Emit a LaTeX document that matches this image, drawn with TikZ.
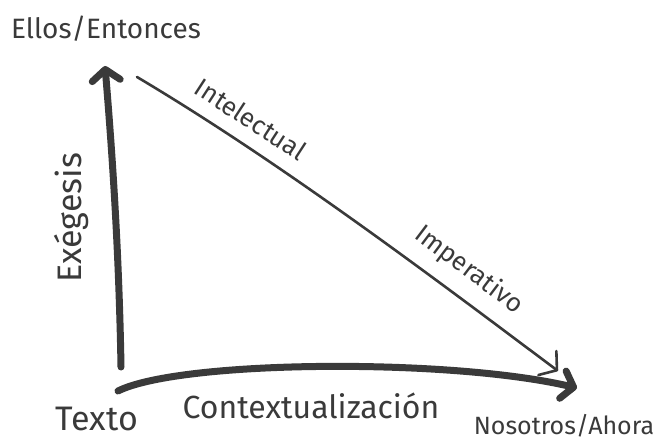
\documentclass[tikz,border=0pt]{standalone}
\usepackage{fontspec}
\setmainfont{Fira Sans}
\usetikzlibrary{arrows.meta}
\definecolor{pencil}{HTML}{3A3A3A}

\begin{document}
\begin{tikzpicture}[x=1pt,y=-1pt,
    every node/.style={text=pencil,inner sep=0pt},
    bigword/.style={font=\fontsize{28}{28}\selectfont},
    smallword/.style={font=\fontsize{26}{26}\selectfont},
    heavyline/.style={draw=pencil,line width=7pt,line cap=round},
    lightline/.style={draw=pencil,line width=2.6pt,line cap=round},
    heavyhead/.style={-{Straight Barb[length=11pt,width=28pt,line width=7pt,round]}},
    lighthead/.style={-{Straight Barb[length=12pt,width=30pt,line width=2.6pt,round]}}]

  \useasboundingbox (0,0) rectangle (659,447);

  \coordinate (exeBase) at (121,367);
  \coordinate (exeTip) at (105,66);
  \coordinate (ctxStart) at (118,391);
  \coordinate (ctxTip) at (577,388);
  \coordinate (impStart) at (137,77);
  \coordinate (impTip) at (558,371);

  % Corner words
  \node[bigword] (ellos) at (106,29) {Ellos/Entonces};
  \node[bigword,font=\fontsize{34}{34}\selectfont] (texto) at (97,419) {Texto};
  \node[bigword,font=\fontsize{25}{25}\selectfont] (nosotros) at (564,426) {Nosotros/Ahora};

  % Words along the arrows
  \node[bigword,rotate=90,font=\fontsize{34}{34}\selectfont] (exegesis) at (72,218) {Exégesis};
  \node[bigword,font=\fontsize{32}{32}\selectfont] (contexto) at (311,406) {Contextualización};
  \node[smallword,rotate=-33] (intelectual) at (251,119) {Intelectual};
  \node[smallword,rotate=-37] (imperativo) at (469,270) {Imperativo};

  % Draw the three arrows
  \draw[heavyline,heavyhead] (exeBase) .. controls (119,250) and (112,150) .. (exeTip);
  \draw[heavyline,heavyhead] (ctxStart) .. controls (180,360) and (450,358) .. (ctxTip);
  \draw[lightline,lighthead] (impStart) .. controls (280,162) and (430,275) .. (impTip);

\end{tikzpicture}
\end{document}
